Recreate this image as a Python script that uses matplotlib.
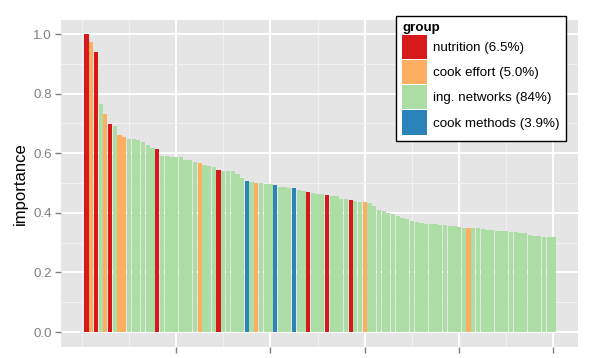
import numpy as np
import matplotlib
matplotlib.use("Agg")
import matplotlib.pyplot as plt
from matplotlib.patches import Patch

plt.rcParams['font.family'] = ['Liberation Sans', 'DejaVu Sans']

# importance of each feature, sorted
importance = [1.000, 0.973, 0.938, 0.764, 0.733, 0.697, 0.692, 0.661, 0.654, 0.648,
              0.647, 0.643, 0.638, 0.628, 0.618, 0.615, 0.592, 0.592, 0.589, 0.587,
              0.586, 0.579, 0.577, 0.571, 0.566, 0.560, 0.557, 0.555, 0.543, 0.539,
              0.539, 0.539, 0.532, 0.516, 0.506, 0.502, 0.501, 0.499, 0.497, 0.496,
              0.495, 0.488, 0.486, 0.485, 0.482, 0.477, 0.474, 0.470, 0.467, 0.464,
              0.463, 0.459, 0.457, 0.456, 0.446, 0.445, 0.442, 0.440, 0.437, 0.435,
              0.432, 0.423, 0.409, 0.405, 0.399, 0.395, 0.391, 0.383, 0.378, 0.373,
              0.369, 0.365, 0.363, 0.362, 0.361, 0.359, 0.358, 0.357, 0.356, 0.354,
              0.350, 0.349, 0.348, 0.348, 0.347, 0.341, 0.341, 0.340, 0.339, 0.338,
              0.337, 0.335, 0.334, 0.333, 0.327, 0.323, 0.321, 0.320, 0.320, 0.318]

# which ranks belong to which group (everything else = ing. networks)
nutrition_rank = [1, 3, 6, 16, 29, 48, 52, 57]
effort_rank = [2, 5, 8, 9, 25, 37, 60, 82]
methods_rank = [35, 41, 45]

groups = ["nutrition (6.5%)", "cook effort (5.0%)", "ing. networks (84%)", "cook methods (3.9%)"]
colors = ["#D7191C", "#FDAE61", "#ABDDA4", "#2B83BA"]

x = np.arange(1, len(importance) + 1)
grp = np.full(len(importance), 2)
grp[np.array(nutrition_rank) - 1] = 0
grp[np.array(effort_rank) - 1] = 1
grp[np.array(methods_rank) - 1] = 3
bar_colors = [colors[g] for g in grp]

fig = plt.figure(figsize=(5.98, 3.58), dpi=100)
ax = fig.add_axes([61/598, 1 - 347/358, 517/598, 327/358])
ax.set_facecolor("#E5E5E5")

ax.bar(x, importance, width=0.9, color=bar_colors, linewidth=0, zorder=3)

ax.set_xlim(-4.4, 105.2)
ax.set_ylim(-0.05, 1.047)
ax.set_xticks([20, 40, 60, 80, 100])
ax.set_xticks([0, 10, 30, 50, 70, 90], minor=True)
ax.set_yticks([0.0, 0.2, 0.4, 0.6, 0.8, 1.0])
ax.set_yticks([0.1, 0.3, 0.5, 0.7, 0.9], minor=True)
ax.set_yticklabels(["0.0", "0.2", "0.4", "0.6", "0.8", "1.0"])

ax.grid(which="major", color="white", linewidth=1.4, zorder=1)
ax.grid(which="minor", color="#F2F2F2", linewidth=0.7, zorder=1)
ax.set_axisbelow(True)
for s in ax.spines.values():
    s.set_visible(False)

ax.tick_params(which="major", length=4.5, width=1, color="#7F7F7F",
               labelcolor="#7F7F7F", labelsize=9.6, pad=2)
# x labels sit mostly below the bottom edge, as in the original
ax.tick_params(axis="x", which="major", pad=3.3)
ax.tick_params(which="minor", length=0)

ax.set_ylabel("importance", fontsize=12, labelpad=4)

handles = [Patch(facecolor=c, edgecolor="none") for c in colors]
leg = ax.legend(handles, groups, title="group", loc="upper right",
                bbox_to_anchor=(566/598, 1 - 16/358), bbox_transform=fig.transFigure,
                fontsize=9.6, title_fontsize=9.6, handlelength=1.9, handleheight=2.4,
                handletextpad=0.45, labelspacing=0.08, borderpad=0.45,
                borderaxespad=0, fancybox=False, framealpha=1)
leg.get_title().set_fontweight("bold")
leg._legend_box.align = "left"
leg.get_frame().set_edgecolor("black")
leg.get_frame().set_linewidth(1.0)
leg.set_zorder(5)

fig.savefig("out.png", dpi=100)
